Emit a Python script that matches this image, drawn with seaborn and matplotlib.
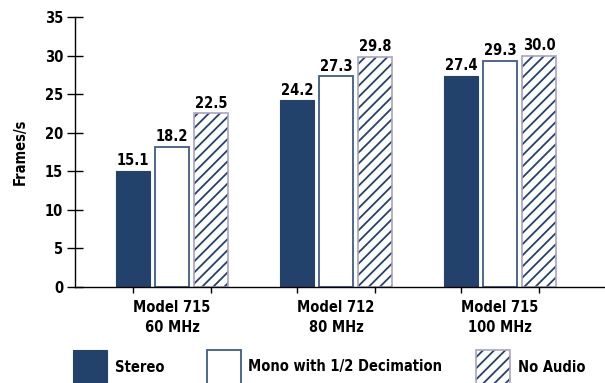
import matplotlib
matplotlib.use("Agg")
import matplotlib.pyplot as plt
from matplotlib.patches import Rectangle
import pandas as pd
import seaborn as sns

# Frame rates per workstation and audio mode
configs = ["Model 715\n60 MHz", "Model 712\n80 MHz", "Model 715\n100 MHz"]
modes = ["Stereo", "Mono with 1/2 Decimation", "No Audio"]
stereo = [15.1, 24.2, 27.4]
mono = [18.2, 27.3, 29.3]
no_audio = [22.5, 29.8, 30.0]
y_ticks = [0, 5, 10, 15, 20, 25, 30, 35]

NAVY = "#23426b"
MONO_EDGE = "#3d5d88"
HATCH_EDGE = "#a9a3c2"
FS = 10.5

sns.set_theme(style="white")
plt.rcParams["font.family"] = ["DejaVu Sans"]
plt.rcParams["font.stretch"] = "condensed"
plt.rcParams["font.weight"] = "bold"
plt.rcParams["text.color"] = "black"
plt.rcParams["axes.labelcolor"] = "black"
plt.rcParams["xtick.color"] = "black"
plt.rcParams["ytick.color"] = "black"
plt.rcParams["hatch.linewidth"] = 1.3

df = pd.DataFrame({
    "config": configs * 3,
    "mode": [modes[0]] * 3 + [modes[1]] * 3 + [modes[2]] * 3,
    "fps": stereo + mono + no_audio,
})

fig = plt.figure(figsize=(6.05, 3.83), dpi=100)
ax = fig.add_axes([75 / 605, 1 - 287 / 383, 530 / 605, 270 / 383])

sns.barplot(data=df, x="config", y="fps", hue="mode", order=configs,
            hue_order=modes, width=0.714, gap=0.13, legend=False,
            palette=[NAVY, "white", "white"], ax=ax)

styles = [
    dict(facecolor=NAVY, edgecolor=NAVY, linewidth=0.8, hatch=None),
    dict(facecolor="white", edgecolor=MONO_EDGE, linewidth=1.3, hatch=None),
    dict(facecolor="white", edgecolor=NAVY, linewidth=0, hatch="///"),
]
centers = []
for cont, st, vals in zip(ax.containers, styles, [stereo, mono, no_audio]):
    for p, v in zip(cont.patches, vals):
        p.set_facecolor(st["facecolor"])
        p.set_edgecolor(st["edgecolor"])
        p.set_linewidth(st["linewidth"])
        if st["hatch"]:
            p.set_hatch(st["hatch"])
            ax.add_patch(Rectangle(p.get_xy(), p.get_width(), p.get_height(),
                                   fill=False, edgecolor=HATCH_EDGE, linewidth=1.2))
        cx = p.get_x() + p.get_width() / 2
        centers.append(cx)
        ax.text(cx, v + 0.35, f"{v:.1f}", ha="center", va="bottom",
                fontsize=FS, fontweight="bold", color="black")

ax.set_ylim(0, 35)
ax.set_xlim(-0.5915, 2.64)
ax.set_yticks(y_ticks)
ax.set_ylabel("Frames/s", fontsize=FS, fontweight="bold", labelpad=12)
ax.set_xlabel("")
ax.set_xticks(range(len(configs)))
ax.set_xticklabels(configs, fontsize=FS, fontweight="bold", linespacing=1.45)
ax.set_xticks(sorted(centers), minor=True)
ax.tick_params(axis="x", which="major", bottom=True, length=0, pad=9)
ax.tick_params(axis="x", which="minor", bottom=True, direction="inout",
               length=9, width=1, color="black")
ax.tick_params(axis="y", left=True, direction="inout", length=11, width=1,
               color="black", labelsize=FS, pad=3)
for lbl in ax.get_yticklabels():
    lbl.set_fontweight("bold")
for side in ["top", "right"]:
    ax.spines[side].set_visible(False)
for side in ["left", "bottom"]:
    ax.spines[side].set_color("black")
    ax.spines[side].set_linewidth(1)

# Legend row along the bottom edge
W, H = 605, 383
legend_items = [
    (73, 115, modes[0], dict(facecolor=NAVY, edgecolor=NAVY, linewidth=0.8)),
    (207, 248, modes[1], dict(facecolor="white", edgecolor=MONO_EDGE, linewidth=1.3)),
    (476, 518, modes[2], dict(facecolor="white", edgecolor=NAVY, linewidth=0, hatch="///")),
]
for x0, tx, label, kw in legend_items:
    fig.patches.append(Rectangle((x0 / W, 1 - 386 / H), 34 / W, 36 / H,
                                 transform=fig.transFigure, **kw))
    if kw.get("hatch"):
        fig.patches.append(Rectangle((x0 / W, 1 - 386 / H), 34 / W, 36 / H,
                                     transform=fig.transFigure, fill=False,
                                     edgecolor=HATCH_EDGE, linewidth=1.2))
    fig.text(tx / W, 1 - 367 / H, label, ha="left", va="center",
             fontsize=FS, fontweight="bold", color="black")

fig.savefig("out.png", dpi=100)
